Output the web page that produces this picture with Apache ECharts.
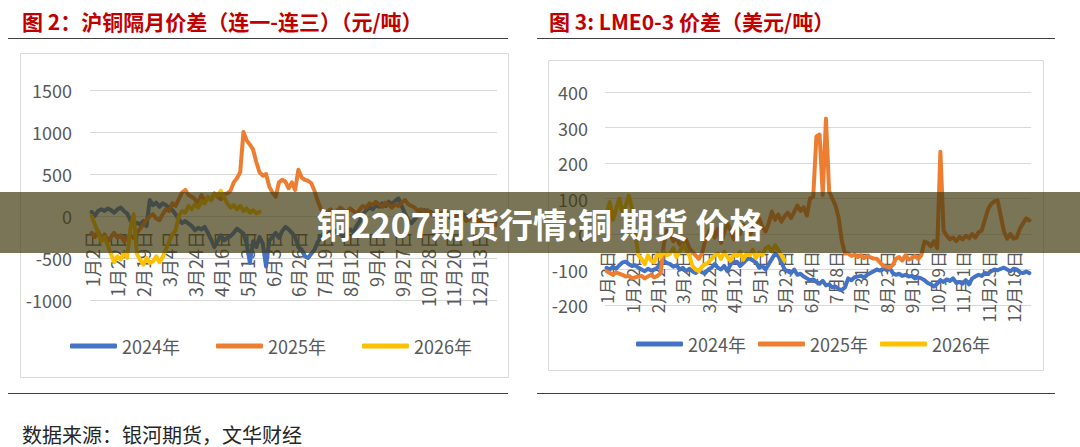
<!DOCTYPE html>
<html>
<head>
<meta charset="utf-8">
<script src="https://cdn.jsdelivr.net/npm/echarts@6/dist/echarts.min.js"></script>
<style>
html, body { margin: 0; padding: 0; background: #fff; }
#main { width: 1080px; height: 447px; }
</style>
</head>
<body>
<div id="main"></div>
<script>
// tick labels (one every 8 points)
var leftTicks = ['1月2日','1月22日','2月19日','3月4日','3月24日','4月16日','5月13日','6月3日','6月26日','7月19日','8月12日','9月4日','9月27日','10月28日','11月20日','12月13日'];
var rightTicks = ['1月2日','1月22日','2月12日','3月2日','3月22日','4月12日','5月1日','5月23日','6月14日','7月8日','7月31日','8月23日','9月16日','10月9日','11月1日','11月25日','12月18日'];

// 图2 沪铜隔月价差（连一-连三）
var sh2024 = [50,0,60,80,60,90,70,40,80,100,60,30,
  -50,-110,-80,-100,-60,-120,
  190,130,160,110,150,130,100,
  70,20,-40,-85,-60,
  -90,-120,-170,-140,-160,-130,
  -200,-280,-370,-300,
  -230,-290,-260,-240,-200,
  -150,-180,-210,-330,
  -560,
  -300,-370,-250,-330,
  -600,
  -290,-250,-200,-260,-180,
  -130,-160,-200,-250,
  -370,-400,-480,-500,-450,
  -400,-310,-250,-200,
  -230,-180,-200,-170,-220,-250,-200,-160,-190,-120,
  -60,20,70,100,80,130,110,150,120,170,140,180,210,
  120,30,-50,-85,-40,
  0,40,70,30,50,10,60,20,0,40,
  -20,10,30,-10,20,0,-30,10,20,-10,
  -50,-70,-60,-90,-80];
var sh2025 = [-200,-250,-180,-280,-220,-300,-250,-200,-260,-230,-300,-250,
  -230,-260,-200,-150,-100,-50,0,20,-30,
  -50,20,80,60,150,120,200,280,310,250,
  230,200,150,250,180,220,
  190,270,230,200,260,270,
  300,400,450,520,
  1000,900,850,790,640,
  520,480,500,
  350,280,230,
  400,430,410,
  330,400,310,
  550,460,430,420,390,
  300,180,80,20,
  50,80,30,60,100,70,40,90,60,30,
  80,120,100,150,130,170,140,110,160,130,100,140,120,
  160,190,140,120,100,60,80,40,70,30,0,50,20,60,30,
  0,-30,10,40,-20,-60,-40,-10,-80,-50,-100,-70,-130,-90,-110];
var sh2026 = [0,-100,-200,-300,-250,
  -350,-450,-550,-480,-520,-440,-500,
  -150,20,
  -450,-520,-580,-500,-560,-540,-480,-550,
  -490,-400,-300,-220,-170,
  0,60,40,120,80,140,100,180,150,230,190,260,240,
  300,220,150,100,130,80,120,60,90,
  40,70,30,50];

// 图3 LME0-3 价差
var lme2024 = [-95,-100,-92,-98,-88,
  -80,-78,-85,
  -90,-88,-95,
  -100,-105,-98,-103,-100,-95,
  -80,-77,-82,-85,
  -92,-88,-100,-95,-105,-98,
  -105,-110,-102,-108,
  -110,-100,-95,
  -85,-95,-100,-90,-105,
  -85,-80,-78,-90,-82,
  -72,-68,-75,-80,
  -95,-90,-100,-85,
  -70,-55,-62,-80,
  -100,-105,-110,-100,-115,-112,-120,
  -125,-130,-128,-135,-140,-132,-145,-142,
  -150,-148,-155,-158,-150,
  -125,-130,-122,-120,
  -118,-122,-115,-110,-105,
  -100,-103,-98,-100,-95,
  -110,-115,-112,-118,-115,
  -120,-118,-125,-122,-125,
  -130,-138,-142,-148,-140,
  -130,-135,-128,-132,-125,
  -138,-135,-140,-130,-142,-125,
  -120,-115,-118,-110,-112,
  -105,-100,-102,-98,-95,-100,
  -105,-98,-100,
  -108,-110,-106,-110];
var lme2025 = [-105,-110,-115,-108,-112,
  -115,-120,-118,-125,-122,-120,-118,-125,-120,-115,-122,-118,-110,
  -30,10,
  0,-20,-10,-30,-25,-15,-40,
  -50,-60,-70,-55,
  -20,0,20,-10,15,-25,5,30,10,-15,20,0,25,10,-5,15,30,
  44,20,7,30,
  63,40,55,35,50,60,45,62,
  80,65,75,52,
  100,105,
  275,280,110,325,120,
  100,80,45,-20,-55,
  -55,-62,-58,-65,-60,-68,-62,-66,-69,
  -70,-80,-90,-92,-95,-88,
  -70,-65,-75,-60,-72,-68,-62,-70,-60,
  -21,-25,-35,-20,-40,
  232,10,
  -5,-15,-10,-20,-8,-15,-5,-12,
  0,-10,5,10,
  40,70,85,92,95,
  50,7,-13,0,
  -13,-10,
  15,30,44,38];
var lme2026 = [60,90,40,70,100,60,80,108,70,
  0,-60,
  -70,-85,-60,-75,-80,-55,-65,
  -50,-60,-55,-40,-65,-50,-30,-45,-60,
  -90,-100,-105,-92,-85,-80,-70,
  -60,-55,-70,-50,-65,-75,-58,-62,-50,-72,-55,-60,-45,-68,-52,-60,-40,
  -35,-50,-32,-45,-60,-75];

var seriesNames = ['2024年', '2025年', '2026年'];
var colors = ['#4472C4', '#ED7D31', '#FFC000'];
var FONT = '"Noto Sans CJK SC", "Noto Sans", sans-serif';

function indexList(n) {
  var out = [];
  for (var i = 0; i < n; i++) out.push(String(i));
  return out;
}

// category axis drawn on the zero line (offset lifts it from the grid bottom)
function catAxis(gridIndex, n, ticks, offset, fontSize, margin) {
  return {
    type: 'category',
    gridIndex: gridIndex,
    position: 'bottom',
    offset: offset,
    data: indexList(n),
    boundaryGap: true,
    axisLine: { onZero: false, lineStyle: { color: '#d9d9d9' } },
    axisTick: { show: false },
    splitLine: { show: false },
    axisLabel: {
      interval: 7,
      rotate: 90,
      margin: margin,
      color: '#595959',
      fontSize: fontSize,
      fontFamily: FONT,
      formatter: function (v) { return ticks[Number(v) / 8] || ''; }
    }
  };
}

function valAxis(gridIndex, min, max, interval, margin) {
  return {
    type: 'value',
    gridIndex: gridIndex,
    min: min, max: max, interval: interval,
    axisLine: { show: false },
    axisTick: { show: false },
    axisLabel: { color: '#595959', fontSize: 18, fontFamily: FONT, margin: margin,
      formatter: function (v) { return String(v); } },
    splitLine: { lineStyle: { color: '#d9d9d9', width: 1 } }
  };
}

function lineSeries(name, data, color, axisIdx) {
  return {
    type: 'line', name: name, data: data,
    xAxisIndex: axisIdx, yAxisIndex: axisIdx,
    symbol: 'none', smooth: false,
    lineStyle: { color: color, width: 4, cap: 'round', join: 'round' },
    itemStyle: { color: color },
    emphasis: { disabled: true }
  };
}

var legendBase = {
  itemWidth: 47, itemHeight: 5, icon: 'roundRect',
  selectedMode: false,
  textStyle: { fontSize: 18, color: '#595959', fontFamily: FONT },
  data: seriesNames
};

var chart = echarts.init(document.getElementById('main'), null, { renderer: 'svg' });
chart.setOption({
  animation: false,
  backgroundColor: '#ffffff',
  textStyle: { fontFamily: FONT },
  grid: [
    { left: 90, top: 90, width: 407, height: 210, containLabel: false },
    { left: 605, top: 92, width: 426, height: 213, containLabel: false }
  ],
  xAxis: [catAxis(0, 126, leftTicks, -84, 18, 15), catAxis(1, 134, rightTicks, -71, 17, 17)],
  yAxis: [valAxis(0, -1000, 1500, 500, 18), valAxis(1, -200, 400, 100, 17)],
  legend: [
    Object.assign({}, legendBase, { left: 65, top: 332, itemGap: 36 }),
    Object.assign({}, legendBase, { left: 631, top: 330, itemGap: 12 })
  ],
  series: [
    lineSeries(seriesNames[0], sh2024, colors[0], 0),
    lineSeries(seriesNames[1], sh2025, colors[1], 0),
    lineSeries(seriesNames[2], sh2026, colors[2], 0),
    lineSeries(seriesNames[0], lme2024, colors[0], 1),
    lineSeries(seriesNames[1], lme2025, colors[1], 1),
    lineSeries(seriesNames[2], lme2026, colors[2], 1)
  ],
  graphic: [
    // chart frames
    { type: 'rect', z: 0, shape: { x: 20.5, y: 53.5, width: 488, height: 324 },
      style: { fill: 'none', stroke: '#d9d9d9', lineWidth: 1 } },
    { type: 'rect', z: 0, shape: { x: 548.5, y: 60.5, width: 495, height: 310 },
      style: { fill: 'none', stroke: '#d9d9d9', lineWidth: 1 } },
    // titles
    { type: 'text', x: 22, y: 21, z: 10,
      style: { text: '图 2：沪铜隔月价差（连一-连三）（元/吨）', fill: '#c00000',
        font: 'bold 21px ' + FONT, verticalAlign: 'middle' } },
    { type: 'text', x: 549, y: 21, z: 10,
      style: { text: '图 3: LME0-3 价差（美元/吨）', fill: '#c00000',
        font: 'bold 21px ' + FONT, verticalAlign: 'middle' } },
    // rules under titles and above source
    { type: 'line', z: 10, shape: { x1: 8, y1: 38.5, x2: 508, y2: 38.5 }, style: { stroke: '#404040', lineWidth: 1 } },
    { type: 'line', z: 10, shape: { x1: 537, y1: 38.5, x2: 1055, y2: 38.5 }, style: { stroke: '#404040', lineWidth: 1 } },
    { type: 'line', z: 10, shape: { x1: 8, y1: 393.5, x2: 508, y2: 393.5 }, style: { stroke: '#404040', lineWidth: 1 } },
    { type: 'line', z: 10, shape: { x1: 537, y1: 393.5, x2: 1055, y2: 393.5 }, style: { stroke: '#404040', lineWidth: 1 } },
    // source
    { type: 'text', x: 22, y: 434, z: 10,
      style: { text: '数据来源：银河期货，文华财经', fill: '#262626',
        font: '20px ' + FONT, verticalAlign: 'middle' } },
    // banner overlay
    { type: 'rect', z: 100, shape: { x: 0, y: 192, width: 1080, height: 61 },
      style: { fill: 'rgba(65,59,16,0.7)' } },
    { type: 'text', x: 540, y: 223, z: 101,
      style: { text: '铜2207期货行情:铜 期货 价格', fill: '#ffffff',
        font: 'bold 34px ' + FONT, align: 'center', verticalAlign: 'middle' } }
  ]
});
</script>
</body>
</html>
